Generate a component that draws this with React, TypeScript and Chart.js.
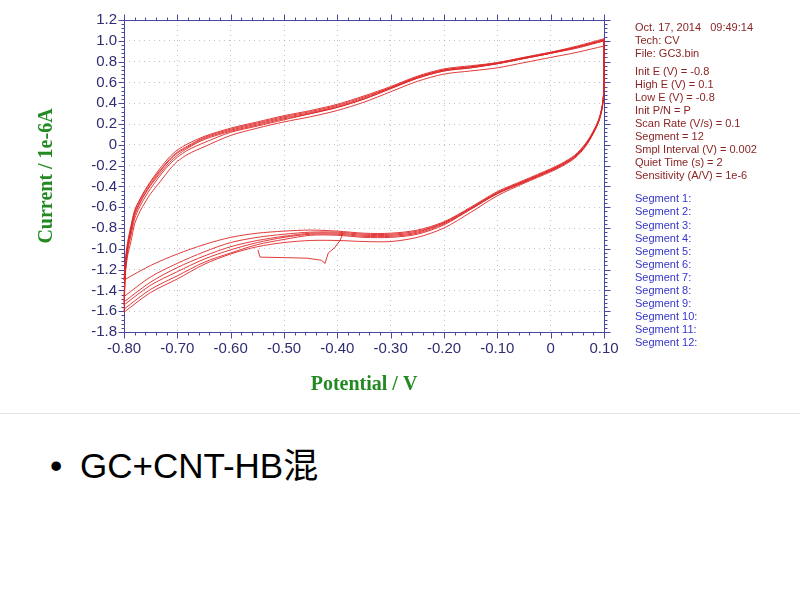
import React, { useEffect, useRef } from 'react';
import { Chart, registerables } from 'chart.js';

Chart.register(...registerables);

// ---- Data (potential in V, current in 1e-6 A) ----
const ANODIC_E = [-0.8, -0.797, -0.793, -0.787, -0.78, -0.77, -0.76, -0.75, -0.73, -0.715, -0.7, -0.68, -0.65, -0.6, -0.55, -0.5, -0.45, -0.4, -0.35, -0.3, -0.25, -0.2, -0.15, -0.1, -0.05, 0, 0.05, 0.1];
const AN_1 = [-1.3, -1.2, -1.06, -0.93, -0.76, -0.64, -0.55, -0.47, -0.34, -0.24, -0.16, -0.09, -0.02, 0.09, 0.16, 0.22, 0.27, 0.33, 0.41, 0.51, 0.61, 0.68, 0.71, 0.74, 0.79, 0.84, 0.89, 0.95];
const AN_2 = [-1.61, -1.22, -1.02, -0.87, -0.71, -0.59, -0.5, -0.42, -0.28, -0.19, -0.12, -0.05, 0.02, 0.12, 0.18, 0.24, 0.3, 0.36, 0.44, 0.54, 0.64, 0.71, 0.74, 0.78, 0.83, 0.88, 0.93, 1.0];
const AN_3 = [-1.3, -1.08, -0.93, -0.78, -0.63, -0.52, -0.43, -0.35, -0.21, -0.12, -0.05, 0.01, 0.08, 0.16, 0.22, 0.28, 0.33, 0.39, 0.47, 0.56, 0.66, 0.73, 0.76, 0.79, 0.84, 0.89, 0.95, 1.02];
const AN_4 = [-1.46, -1.12, -0.95, -0.8, -0.64, -0.53, -0.44, -0.36, -0.23, -0.14, -0.07, -0.01, 0.07, 0.15, 0.21, 0.27, 0.32, 0.38, 0.46, 0.55, 0.65, 0.72, 0.75, 0.79, 0.84, 0.89, 0.94, 1.01];
const AN_5 = [-1.51, -1.15, -0.97, -0.82, -0.66, -0.55, -0.46, -0.38, -0.24, -0.15, -0.08, -0.02, 0.06, 0.14, 0.2, 0.26, 0.31, 0.37, 0.45, 0.55, 0.65, 0.72, 0.75, 0.78, 0.83, 0.88, 0.94, 1.01];
const AN_6 = [-1.54, -1.18, -0.99, -0.84, -0.68, -0.56, -0.47, -0.39, -0.26, -0.17, -0.1, -0.03, 0.05, 0.13, 0.19, 0.25, 0.3, 0.36, 0.44, 0.54, 0.64, 0.71, 0.74, 0.78, 0.83, 0.88, 0.94, 1.0];

const CATH_E = [0.1, 0.1, 0.099, 0.097, 0.094, 0.09, 0.08, 0.065, 0.045, 0.02, 0, -0.05, -0.1, -0.15, -0.2, -0.25, -0.3, -0.35, -0.4, -0.45, -0.5, -0.55, -0.6, -0.65, -0.7, -0.75, -0.8];
const CA_1 = [0.95, 0.6, 0.45, 0.36, 0.29, 0.22, 0.11, -0.02, -0.13, -0.21, -0.26, -0.37, -0.49, -0.65, -0.8, -0.89, -0.93, -0.93, -0.92, -0.92, -0.94, -0.98, -1.05, -1.15, -1.29, -1.42, -1.61];
const CA_2 = [1.0, 0.61, 0.46, 0.37, 0.29, 0.22, 0.11, -0.01, -0.12, -0.2, -0.25, -0.36, -0.47, -0.62, -0.77, -0.86, -0.89, -0.89, -0.87, -0.87, -0.91, -0.96, -1.04, -1.13, -1.26, -1.39, -1.58];
const CA_3 = [1.02, 0.63, 0.48, 0.39, 0.31, 0.24, 0.13, 0.01, -0.1, -0.18, -0.23, -0.34, -0.45, -0.6, -0.74, -0.82, -0.85, -0.85, -0.83, -0.82, -0.83, -0.85, -0.89, -0.96, -1.05, -1.16, -1.3];
const CA_4 = [1.01, 0.62, 0.47, 0.38, 0.31, 0.24, 0.13, 0.0, -0.11, -0.19, -0.24, -0.35, -0.46, -0.61, -0.75, -0.83, -0.86, -0.86, -0.84, -0.84, -0.86, -0.89, -0.94, -1.03, -1.14, -1.27, -1.46];
const CA_5 = [1.01, 0.62, 0.47, 0.38, 0.3, 0.23, 0.12, 0.0, -0.11, -0.19, -0.24, -0.35, -0.46, -0.61, -0.75, -0.84, -0.87, -0.87, -0.85, -0.85, -0.88, -0.92, -0.98, -1.07, -1.18, -1.32, -1.51];
const CA_6 = [1.0, 0.61, 0.46, 0.37, 0.3, 0.23, 0.12, -0.01, -0.12, -0.2, -0.25, -0.36, -0.47, -0.62, -0.76, -0.85, -0.88, -0.88, -0.86, -0.86, -0.89, -0.94, -1.01, -1.1, -1.22, -1.35, -1.54];

const GLITCH_E = [-0.389, -0.395, -0.405, -0.417, -0.423, -0.43, -0.457, -0.5, -0.545, -0.549];
const GLITCH_I = [-0.85, -0.92, -0.99, -1.04, -1.14, -1.11, -1.09, -1.085, -1.08, -1.01];

const INFO_LINES = ['Oct. 17, 2014   09:49:14', 'Tech: CV', 'File: GC3.bin'];
const PARAM_LINES = [
  'Init E (V) = -0.8',
  'High E (V) = 0.1',
  'Low E (V) = -0.8',
  'Init P/N = P',
  'Scan Rate (V/s) = 0.1',
  'Segment = 12',
  'Smpl Interval (V) = 0.002',
  'Quiet Time (s) = 2',
  'Sensitivity (A/V) = 1e-6',
];
const SEGMENT_LINES = ['Segment 1:', 'Segment 2:', 'Segment 3:', 'Segment 4:', 'Segment 5:', 'Segment 6:', 'Segment 7:', 'Segment 8:', 'Segment 9:', 'Segment 10:', 'Segment 11:', 'Segment 12:'];

const X_MIN = -0.8;
const X_MAX = 0.1;
const Y_MIN = -1.8;
const Y_MAX = 1.2;

const AXIS_COLOR = '#4848a0';
const TICK_LABEL_COLOR = '#2e2e70';
const TITLE_COLOR = '#238a23';
const CURVE_COLOR = 'rgba(222, 38, 38, 0.9)';

const pairs = (E: number[], I: number[]) => E.map((e, i) => ({ x: e, y: I[i] }));

const frameTicksPlugin = {
  id: 'frameTicks',
  beforeDatasetsDraw(chart: any) {
    const { ctx, chartArea: a } = chart;
    const xs = chart.scales.x;
    const ys = chart.scales.y;
    const L = Math.round(a.left) + 0.5;
    const R = Math.round(a.right) + 0.5;
    const T = Math.round(a.top) + 0.5;
    const B = Math.round(a.bottom) + 0.5;
    ctx.save();
    ctx.strokeStyle = AXIS_COLOR;
    ctx.lineWidth = 1;
    ctx.beginPath();
    ctx.moveTo(L, T);
    ctx.lineTo(R, T);
    ctx.lineTo(R, B);
    ctx.lineTo(L, B);
    ctx.closePath();
    for (let i = 0; i <= 45; i++) {
      const p = Math.round(xs.getPixelForValue(X_MIN + i * 0.02)) + 0.5;
      const len = i % 5 === 0 ? 6 : 3;
      ctx.moveTo(p, B);
      ctx.lineTo(p, B + len);
      ctx.moveTo(p, T);
      ctx.lineTo(p, T - len);
    }
    for (let i = 0; i <= 75; i++) {
      const p = Math.round(ys.getPixelForValue(Y_MIN + i * 0.04)) + 0.5;
      const len = i % 5 === 0 ? 6 : 3;
      ctx.moveTo(L, p);
      ctx.lineTo(L - len, p);
      ctx.moveTo(R, p);
      ctx.lineTo(R + len, p);
    }
    ctx.stroke();
    ctx.restore();
  },
};

export default function App() {
  const canvasRef = useRef<HTMLCanvasElement | null>(null);

  useEffect(() => {
    if (!canvasRef.current) return;
    const line = (data: { x: number; y: number }[], tension = 0.3) => ({
      data,
      showLine: true,
      borderColor: CURVE_COLOR,
      backgroundColor: CURVE_COLOR,
      borderWidth: 1,
      pointRadius: 0,
      pointHoverRadius: 0,
      tension,
      fill: false,
      clip: 4,
    });
    const chart = new Chart(canvasRef.current, {
      type: 'scatter',
      data: {
        datasets: [
          line(pairs(ANODIC_E, AN_1)),
          line(pairs(CATH_E, CA_1)),
          line(pairs(ANODIC_E, AN_2)),
          line(pairs(CATH_E, CA_2)),
          line(pairs(ANODIC_E, AN_3)),
          line(pairs(CATH_E, CA_3)),
          line(pairs(ANODIC_E, AN_4)),
          line(pairs(CATH_E, CA_4)),
          line(pairs(ANODIC_E, AN_5)),
          line(pairs(CATH_E, CA_5)),
          line(pairs(ANODIC_E, AN_6)),
          line(pairs(CATH_E, CA_6)),
          line(pairs(GLITCH_E, GLITCH_I), 0),
        ] as any,
      },
      options: {
        animation: false,
        responsive: false,
        devicePixelRatio: 1,
        events: [],
        layout: { padding: { left: 0, right: 196, top: 20, bottom: 0 } },
        plugins: {
          legend: { display: false },
          tooltip: { enabled: false },
        },
        scales: {
          x: {
            type: 'linear',
            min: X_MIN,
            max: X_MAX,
            afterFit: (s: any) => {
              s.height = 78;
            },
            ticks: {
              stepSize: 0.1,
              autoSkip: false,
              maxRotation: 0,
              padding: 8,
              color: TICK_LABEL_COLOR,
              font: { family: "'Liberation Sans', Arial, sans-serif", size: 15 },
              callback: (v: any) => (Math.abs(Number(v)) < 1e-9 ? '0' : Number(v).toFixed(2)),
            },
            grid: { color: 'rgba(140,140,170,0.55)', drawTicks: false, lineWidth: 1 },
            border: { display: false, dash: [1, 4] },
            title: {
              display: true,
              text: 'Potential / V',
              color: TITLE_COLOR,
              font: { family: "'Liberation Serif', 'Times New Roman', serif", size: 20, weight: 'bold' },
              padding: { top: 0, bottom: 13 },
            },
          },
          y: {
            type: 'linear',
            min: Y_MIN,
            max: Y_MAX,
            afterFit: (s: any) => {
              s.width = 124;
            },
            ticks: {
              stepSize: 0.2,
              autoSkip: false,
              padding: 7,
              color: TICK_LABEL_COLOR,
              font: { family: "'Liberation Sans', Arial, sans-serif", size: 15 },
              callback: (v: any) => (Math.abs(Number(v)) < 1e-9 ? '0' : Number(v).toFixed(1)),
            },
            grid: { color: 'rgba(140,140,170,0.55)', drawTicks: false, lineWidth: 1 },
            border: { display: false, dash: [1, 4] },
            title: {
              display: true,
              text: 'Current / 1e-6A',
              color: TITLE_COLOR,
              font: { family: "'Liberation Serif', 'Times New Roman', serif", size: 20, weight: 'bold' },
              padding: { top: 35, bottom: 0 },
            },
          },
        },
      } as any,
      plugins: [frameTicksPlugin],
    });
    return () => chart.destroy();
  }, []);

  const infoFont = "'Liberation Sans', Arial, sans-serif";
  const lineStyle = (top: number, color: string): React.CSSProperties => ({
    position: 'absolute',
    left: 635,
    top,
    fontFamily: infoFont,
    fontSize: 11,
    lineHeight: '13px',
    color,
    whiteSpace: 'pre',
  });

  return (
    <div style={{ position: 'fixed', left: 0, top: 0, width: 800, height: 600, background: '#ffffff', overflow: 'hidden' }}>
      <canvas ref={canvasRef} width={800} height={410} style={{ position: 'absolute', left: 0, top: 0, width: 800, height: 410 }} />
      {INFO_LINES.map((t, i) => (
        <div key={'i' + i} style={lineStyle(21 + i * 12.8, '#8a2424')}>{t}</div>
      ))}
      {PARAM_LINES.map((t, i) => (
        <div key={'p' + i} style={lineStyle(65.3 + i * 13.0, '#8a2424')}>{t}</div>
      ))}
      {SEGMENT_LINES.map((t, i) => (
        <div key={'s' + i} style={lineStyle(192.3 + i * 13.1, '#3535c8')}>{t}</div>
      ))}
      <div style={{ position: 'absolute', left: 0, top: 413, width: 800, height: 1, background: '#e3e3e3' }} />
      <div
        style={{
          position: 'absolute',
          left: 50,
          top: 446,
          fontFamily: "'Liberation Sans', Arial, 'Noto Sans CJK SC', sans-serif",
          fontSize: 35,
          lineHeight: '40px',
          color: '#000000',
          whiteSpace: 'pre',
        }}
      >
        •
      </div>
      <div
        style={{
          position: 'absolute',
          left: 80,
          top: 446,
          fontFamily: "'Liberation Sans', Arial, 'Noto Sans CJK SC', sans-serif",
          fontSize: 35,
          lineHeight: '40px',
          color: '#000000',
          whiteSpace: 'pre',
        }}
      >
        GC+CNT-HB混
      </div>
    </div>
  );
}
